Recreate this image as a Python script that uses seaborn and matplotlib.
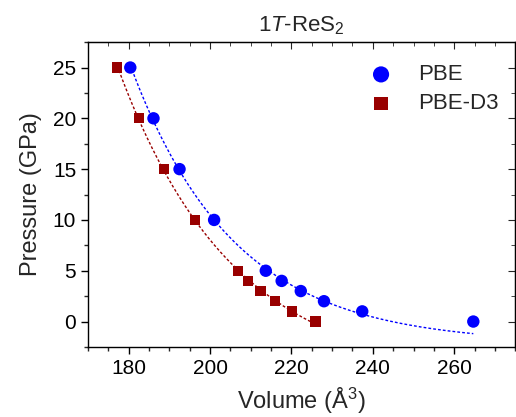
import numpy as np
import pandas as pd
import seaborn as sns
import matplotlib.pyplot as plt
from matplotlib.ticker import MultipleLocator

# Pressure-volume data
pressure = [25, 20, 15, 10, 5, 4, 3, 2, 1, 0]
vol_pbe = [180.4, 186.1, 192.5, 201.0, 213.7, 217.6, 222.3, 228.0, 237.4, 264.7]
vol_d3 = [177.2, 182.5, 188.7, 196.3, 206.8, 209.4, 212.4, 215.9, 220.2, 225.9]

df = pd.DataFrame({
    "Volume": vol_pbe + vol_d3,
    "Pressure": pressure * 2,
    "Method": ["PBE"] * len(vol_pbe) + ["PBE-D3"] * len(vol_d3),
})


def expdec_fit(v, p):
    # y = A*exp(-(x - x0)/t) + y0 : grid over t, linear least squares for A, y0
    v = np.asarray(v, float)
    p = np.asarray(p, float)
    x0 = v.min()
    best = None
    for t in np.arange(3, 200, 0.05):
        A = np.column_stack([np.exp(-(v - x0) / t), np.ones_like(v)])
        coef, *_ = np.linalg.lstsq(A, p, rcond=None)
        res = np.sum((A @ coef - p) ** 2)
        if best is None or res < best[0]:
            best = (res, t, coef)
    _, t, coef = best
    return lambda vv: coef[0] * np.exp(-(vv - x0) / t) + coef[1]


sns.set_style("ticks")
plt.rcParams['font.family'] = ['Liberation Sans', 'DejaVu Sans']
plt.rcParams['mathtext.fontset'] = 'custom'
plt.rcParams['mathtext.rm'] = 'Liberation Sans'
plt.rcParams['mathtext.it'] = 'Liberation Sans:italic'

colors = {"PBE": "#0000FF", "PBE-D3": "#990000"}
markers = {"PBE": "o", "PBE-D3": "s"}
sizes = {"PBE": 80, "PBE-D3": 55}

fig = plt.figure(figsize=(5.16, 4.17), dpi=100)
ax = fig.add_axes([0.1705, 0.168, 0.828, 0.731])

# exponential-decay fits (dotted); PBE fit leaves out the 0 GPa point
for m in ["PBE", "PBE-D3"]:
    sub = df[df["Method"] == m]
    fit_pts = sub[sub["Pressure"] > 0] if m == "PBE" else sub
    f = expdec_fit(fit_pts["Volume"], fit_pts["Pressure"])
    vv = np.linspace(sub["Volume"].min(), sub["Volume"].max(), 200)
    sns.lineplot(x=vv, y=f(vv), ax=ax, color=colors[m], lw=1.0,
                 ls=(0, (2, 1.5)), legend=False)

for m in ["PBE", "PBE-D3"]:
    sub = df[df["Method"] == m]
    sns.scatterplot(data=sub, x="Volume", y="Pressure", ax=ax,
                    color=colors[m], marker=markers[m], s=sizes[m],
                    edgecolor="none", label=m, zorder=3)

ax.set_xlim(170, 275)
ax.set_ylim(-2.5, 27.5)
ax.xaxis.set_major_locator(MultipleLocator(20))
ax.xaxis.set_minor_locator(MultipleLocator(5))
ax.yaxis.set_major_locator(MultipleLocator(5))
ax.yaxis.set_minor_locator(MultipleLocator(2.5))
ax.tick_params(which='major', direction='out', length=5, width=1, labelsize=15, colors='black')
ax.tick_params(which='minor', direction='out', length=3, width=1)

for side in ['top', 'right']:
    ax.spines[side].set_visible(True)
for s in ax.spines.values():
    s.set_linewidth(1)
    s.set_color('black')

top = ax.secondary_xaxis('top')
top.xaxis.set_major_locator(MultipleLocator(20))
top.xaxis.set_minor_locator(MultipleLocator(5))
top.tick_params(which='major', direction='in', length=5, labeltop=False)
top.tick_params(which='minor', direction='in', length=3)
right = ax.secondary_yaxis('right')
right.yaxis.set_major_locator(MultipleLocator(5))
right.yaxis.set_minor_locator(MultipleLocator(2.5))
right.tick_params(which='major', direction='in', length=5, labelright=False)
right.tick_params(which='minor', direction='in', length=3)

ax.set_xlabel("Volume (Å$^3$)", fontsize=17, labelpad=6)
ax.set_ylabel("Pressure (GPa)", fontsize=17, labelpad=8)
ax.set_title("1$\\it{T}$-ReS$_2$", fontsize=16, pad=8)

leg = ax.legend(loc='upper right', frameon=False, fontsize=16,
                handletextpad=0.65, markerscale=1.3,
                bbox_to_anchor=(1.007, 0.993), labelspacing=0.35)

fig.savefig("out.png", dpi=100)
